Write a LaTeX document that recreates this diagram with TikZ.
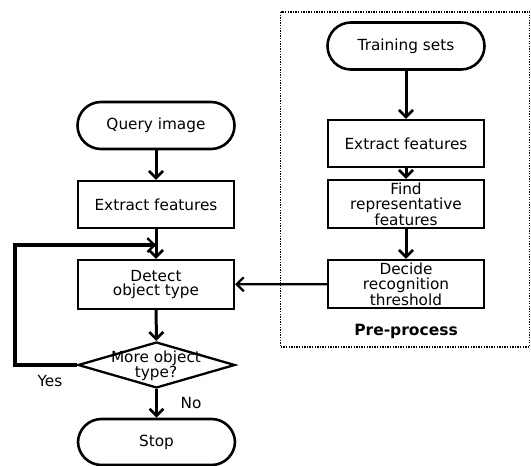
\documentclass[tikz,border=0pt]{standalone}
\usepackage{fontspec}
\setmainfont{DejaVu Sans}
\usetikzlibrary{arrows.meta,shapes.geometric}
\begin{document}
\begin{tikzpicture}[x=1pt,y=-1pt,
  every node/.style={font=\fontsize{15.3}{14.8}\selectfont, align=center},
  term/.style={draw, line width=2.6pt, rectangle, rounded corners=23.5pt, minimum width=157pt, minimum height=47pt, inner sep=0pt},
  proc/.style={draw, line width=2.3pt, rectangle, minimum width=156pt, minimum height=47pt, inner sep=0pt},
  flow/.style={line width=3pt, -{Straight Barb[length=7pt,width=14pt,line width=2.7pt]}},
  thinflow/.style={line width=2.2pt, -{Straight Barb[length=7pt,width=14pt,line width=2.3pt]}},
  lbl/.style={font=\fontsize{15.3}{15}\selectfont}
]
\useasboundingbox (0,0) rectangle (531,466);
% pre-process frame
\draw[line width=1.8pt, dash pattern=on 1.3pt off 1.3pt] (280.5,12) rectangle (529.5,347);
\node[font=\fontsize{15.5}{15}\selectfont\bfseries] (pre) at (406,331) {Pre-process};
% left column
\node[term] (query) at (156,125.5) {Query image};
\node[proc] (ex1) at (156,204.5) {Extract features};
\node[proc, minimum height=49pt] (detect) at (156,284.5) {Detect\\object type};
\node[draw, line width=2.3pt, diamond, minimum width=157pt, minimum height=46pt, inner sep=0pt] (more) at (156.5,365) {};
\node (moretext) at (156,366) {More object\\type?};
\node[term, minimum height=46pt] (stop) at (156.5,442) {Stop};
% right column
\node[term] (train) at (406,46) {Training sets};
\node[proc] (ex2) at (406,143.5) {Extract features};
\node[proc, minimum height=48pt] (find) at (406,204) {Find\\representative\\features};
\node[proc, minimum height=48pt] (decide) at (406,284) {Decide\\recognition\\threshold};
% connectors
\coordinate (join) at (156,245);
\coordinate (c1) at (15,365);
\coordinate (c2) at (15,245);
\draw[flow] (query) -- (ex1);
\draw[flow] (ex1) -- (detect);
\draw[flow] (detect) -- (more);
\draw[flow] (more) -- (stop);
\draw[flow] (train) -- (ex2);
\draw[flow] (ex2) -- (find);
\draw[flow] (find) -- (decide);
\draw[thinflow] (decide) -- (detect);
\draw[line width=4pt] (more.west) -- (c1) -- (c2) -- ([xshift=-1pt]join);
\draw[thinflow] (c2) -- (join);
\node[lbl] (yes) at (50,381) {Yes};
\node[lbl] (no) at (191,403) {No};
\end{tikzpicture}
\end{document}
